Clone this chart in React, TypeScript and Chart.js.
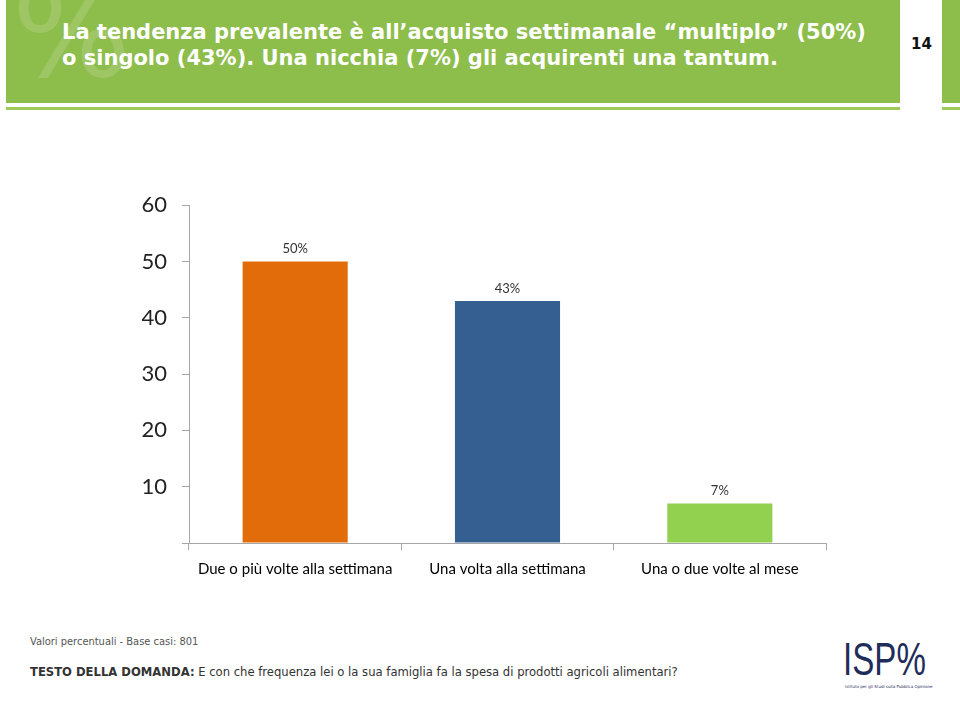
import React, { useEffect, useRef } from "react";
import { Chart, registerables } from "chart.js";

Chart.register(...registerables);

const categories = ["Due o più volte alla settimana", "Una volta alla settimana", "Una o due volte al mese"];
const values = [50, 43, 7];
const valueLabels = ["50%", "43%", "7%"];
const barColors = ["#E36C0A", "#355F91", "#92D050"];
const yTicks = [0, 10, 20, 30, 40, 50, 60];

const titleLine1 = "La tendenza prevalente è all’acquisto settimanale “multiplo” (50%)";
const titleLine2 = "o singolo (43%). Una nicchia (7%) gli acquirenti una tantum.";
const pageNumber = "14";
const noteText = "Valori percentuali - Base casi: 801";
const questionLabel = "TESTO DELLA DOMANDA:";
const questionText = " E con che frequenza lei o la sua famiglia fa la spesa di prodotti agricoli alimentari?";

const GREEN = "#8DBD4B";

const valueLabelPlugin = {
  id: "valueLabels",
  afterDatasetsDraw(chart: any) {
    const ctx = chart.ctx;
    const meta = chart.getDatasetMeta(0);
    ctx.save();
    ctx.font = "13px Lato";
    ctx.fillStyle = "#333333";
    ctx.textAlign = "center";
    ctx.textBaseline = "bottom";
    meta.data.forEach((bar: any, i: number) => {
      ctx.fillText(valueLabels[i], bar.x, bar.y - 6);
    });
    ctx.restore();
  },
};

export default function App() {
  const canvasRef = useRef<HTMLCanvasElement | null>(null);

  useEffect(() => {
    if (!canvasRef.current) return;
    const chart = new Chart(canvasRef.current, {
      type: "bar",
      data: {
        labels: categories,
        datasets: [
          {
            data: values,
            backgroundColor: barColors,
            borderWidth: 0,
            categoryPercentage: 1,
            barPercentage: 0.495,
          },
        ],
      },
      options: {
        animation: false,
        responsive: false,
        maintainAspectRatio: false,
        layout: { padding: { top: 22, right: 4, bottom: 7, left: 0 } },
        plugins: { legend: { display: false }, tooltip: { enabled: false } },
        scales: {
          x: {
            grid: {
              offset: true,
              drawOnChartArea: false,
              drawTicks: true,
              tickLength: 7,
              color: "#A6A6A6",
            },
            border: { color: "#A6A6A6", width: 1 },
            ticks: {
              font: { family: "Lato", size: 15 },
              color: "#000000",
              padding: 10,
              maxRotation: 0,
            },
            afterFit: (s: any) => {
              s.height = 55;
            },
          },
          y: {
            min: 0,
            max: 60,
            afterBuildTicks: (s: any) => {
              s.ticks = yTicks.map((v) => ({ value: v }));
            },
            grid: {
              drawOnChartArea: false,
              drawTicks: true,
              tickLength: 7,
              color: "#A6A6A6",
            },
            border: { color: "#A6A6A6", width: 1 },
            ticks: {
              font: { family: "Lato", size: 22 },
              color: "#222222",
              padding: 15,
              callback: (v: any) => (v === 0 ? "" : String(v)),
            },
            afterFit: (s: any) => {
              s.width = 89;
            },
          },
        },
      },
      plugins: [valueLabelPlugin],
    });
    return () => chart.destroy();
  }, []);

  return (
    <div
      style={{
        position: "absolute",
        left: 0,
        top: 0,
        width: 960,
        height: 703,
        overflow: "hidden",
        background: "#FFFFFF",
        fontFamily: "'DejaVu Sans', sans-serif",
      }}
    >
      {/* header band */}
      <div style={{ position: "absolute", left: 6, top: 0, width: 894, height: 103, background: GREEN, overflow: "hidden" }}>
        <div
          style={{
            position: "absolute",
            left: 6,
            top: -30,
            fontSize: 125,
            fontFamily: "'DejaVu Sans'",
            color: "rgba(255,255,255,0.15)",
            lineHeight: "125px",
          }}
        >
          %
        </div>
        <div
          style={{
            position: "absolute",
            left: 56,
            top: 19,
            color: "#FFFFFF",
            fontWeight: "bold",
            fontSize: 21,
            lineHeight: "26px",
            whiteSpace: "nowrap",
          }}
        >
          <div>{titleLine1}</div>
          <div>{titleLine2}</div>
        </div>
      </div>
      <div style={{ position: "absolute", left: 6, top: 107, width: 894, height: 3, background: "#9CCB5C" }} />
      <div style={{ position: "absolute", left: 942, top: 0, width: 18, height: 103, background: GREEN }} />
      <div style={{ position: "absolute", left: 942, top: 107, width: 18, height: 3, background: "#9CCB5C" }} />
      <div
        style={{
          position: "absolute",
          left: 911,
          top: 35,
          fontSize: 15,
          fontWeight: "bold",
          color: "#111111",
          lineHeight: "18px",
        }}
      >
        {pageNumber}
      </div>

      {/* chart */}
      <canvas
        ref={canvasRef}
        width={730}
        height={428}
        style={{ position: "absolute", left: 100, top: 177, width: 730, height: 428 }}
      />

      {/* footer */}
      <div
        style={{
          position: "absolute",
          left: 30,
          top: 635,
          fontSize: 11,
          fontFamily: "'DejaVu Sans Condensed', 'DejaVu Sans'",
          color: "#555555",
          whiteSpace: "nowrap",
          lineHeight: "14px",
        }}
      >
        {noteText}
      </div>
      <div
        style={{
          position: "absolute",
          left: 30,
          top: 664,
          fontSize: 12.9,
          fontFamily: "'DejaVu Sans Condensed', 'DejaVu Sans'",
          color: "#333333",
          whiteSpace: "nowrap",
          lineHeight: "16px",
        }}
      >
        <b>{questionLabel}</b>
        {questionText}
      </div>

      {/* logo */}
      <div style={{ position: "absolute", left: 843, top: 634, width: 90, height: 62 }}>
        <div
          style={{
            position: "absolute",
            left: 0,
            top: 0,
            fontFamily: "'Liberation Sans Narrow', 'Liberation Sans'",
            fontSize: 46,
            lineHeight: "50px",
            color: "#1F2D5A",
            whiteSpace: "nowrap",
            transform: "scaleX(0.72)",
            transformOrigin: "0 0",
          }}
        >
          ISP<span style={{ color: "#1F2D5A" }}>%</span>
        </div>
        <div
          style={{
            position: "absolute",
            left: 2,
            top: 50,
            fontSize: 4,
            color: "#1F2D5A",
            whiteSpace: "nowrap",
          }}
        >
          Istituto per gli Studi sulla Pubblica Opinione
        </div>
      </div>
    </div>
  );
}
